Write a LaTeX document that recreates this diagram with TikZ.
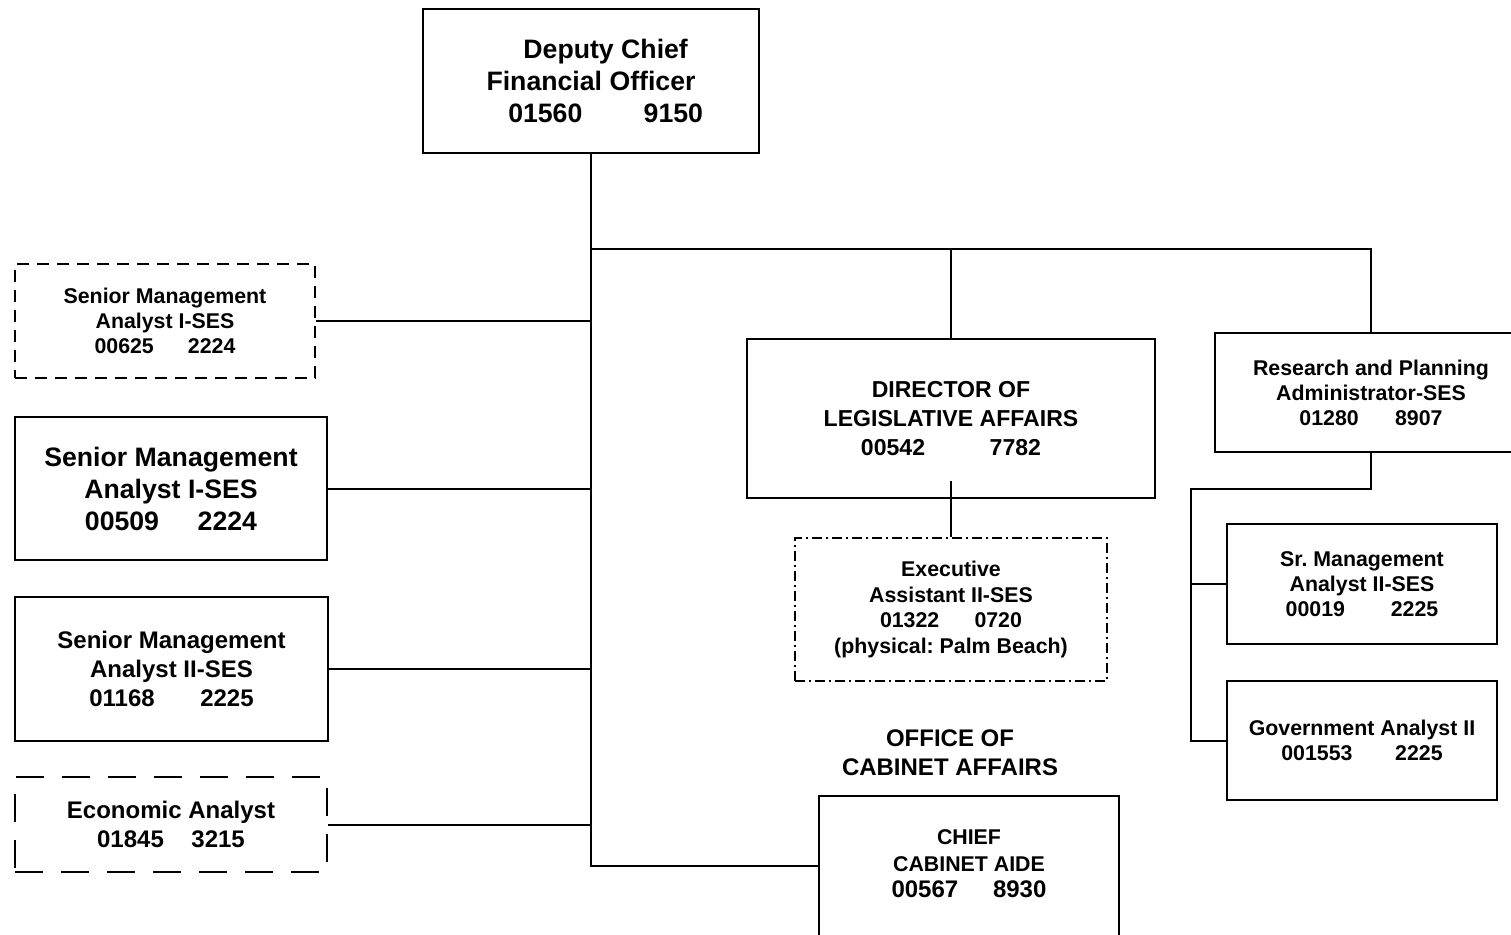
\documentclass[tikz,border=0pt]{standalone}
\usepackage{fontspec}
\setmainfont{Liberation Sans}
\frenchspacing
\usetikzlibrary{calc}
\begin{document}
\begin{tikzpicture}[x=0.75pt,y=-0.75pt,
  line width=1.5pt,
  every node/.style={font=\bfseries, align=center, inner sep=0pt},
  box/.style={draw, fill=white, rectangle},
  sz/.style 2 args={minimum width=#1*0.75pt, minimum height=#2*0.75pt},
  fsmall/.style={font=\bfseries\fontsize{16}{18.75}\selectfont},
  fmid/.style={font=\bfseries\fontsize{18}{21.75}\selectfont},
  fdir/.style={font=\bfseries\fontsize{17.3}{21.75}\selectfont},
  flarge/.style={font=\bfseries\fontsize{20}{24}\selectfont},
  dashbox/.style={dash pattern=on 9pt off 6pt},
  longdash/.style={dash pattern=on 21pt off 13.5pt},
  dotdash/.style={dash pattern=on 7.5pt off 3pt on 1.5pt off 3pt},
]
\useasboundingbox (0,0) rectangle (1511,935);

% top of the chart
\node[box, sz={336}{144}, flarge] (dcfo) at (591,81)
  {\hspace*{1.1em}Deputy Chief\\Financial Officer\\\hspace*{1.1em}01560\hspace{2.3em}9150};

% staff on the left side of the trunk
\node[box, dashbox, sz={300}{114}, fsmall] (sma1) at (165,321)
  {Senior Management\\Analyst I-SES\\00625\hspace{1.6em}2224};
\node[box, sz={312}{143}, flarge] (sma2) at (171,488.5)
  {Senior Management\\Analyst I-SES\\00509\hspace{1.45em}2224};
\node[box, sz={313}{144}, fmid] (sma3) at (171.5,669)
  {Senior Management\\Analyst II-SES\\01168\hspace{1.9em}2225};
\node[box, longdash, sz={312}{95}, fmid] (econ) at (171,824.5)
  {Economic Analyst\\01845\hspace{1.15em}3215};

% legislative affairs
\node[box, sz={408}{159}, fdir] (dir) at (951,418.5)
  {DIRECTOR OF\\LEGISLATIVE AFFAIRS\\00542\hspace{2.8em}7782};
\node[box, dotdash, sz={312}{143}, font=\bfseries\fontsize{16}{19.2}\selectfont] (exec) at (951,609.5)
  {Executive\\Assistant II-SES\\01322\hspace{1.65em}0720\\(physical: Palm Beach)};

% cabinet affairs
\node[fmid] (office) at (950,752.5) {OFFICE OF\\CABINET AFFAIRS};
\node[box, sz={300}{200}, anchor=north] (aide) at (969,795) {};
\node[font=\bfseries\fontsize{16}{19.9}\selectfont] (aidetxt) at (969,864)
  {CHIEF\\CABINET AIDE\\{\fontsize{18}{19.9}\selectfont 00567\hspace{1.45em}8930}};

% research and planning
\node[box, sz={312}{119}, fsmall] (res) at (1371,392.5)
  {Research and Planning\\Administrator-SES\\01280\hspace{1.7em}8907};
\node[box, sz={270}{120}, fsmall] (srm) at (1362,584)
  {Sr. Management\\Analyst II-SES\\00019\hspace{2.15em}2225};
\node[box, sz={270}{119}, fsmall] (gov) at (1362,740.5)
  {Government Analyst II\\001553\hspace{2em}2225};

% connectors
\coordinate (bus) at (591,249);
\coordinate (aidein) at (aide.west |- 0,866);
\draw (dcfo.south) |- (aidein);
\draw (bus) -- (bus -| res.north) -- (res.north);
\draw (bus -| dir.north) -- (dir.north);
\foreach \n in {sma1,sma2,sma3,econ}
  \draw (\n.east) -- (\n.east -| dcfo.south);
\draw ($(dir.south)+(0,-18)$) -- (exec.north);

\coordinate (rj) at (res.south |- 0,489);
\coordinate (rl) at (1191,489);
\draw (res.south) -- (rj) -- (rl) |- (gov.west);
\draw (rl |- srm.west) -- (srm.west);
\end{tikzpicture}
\end{document}
